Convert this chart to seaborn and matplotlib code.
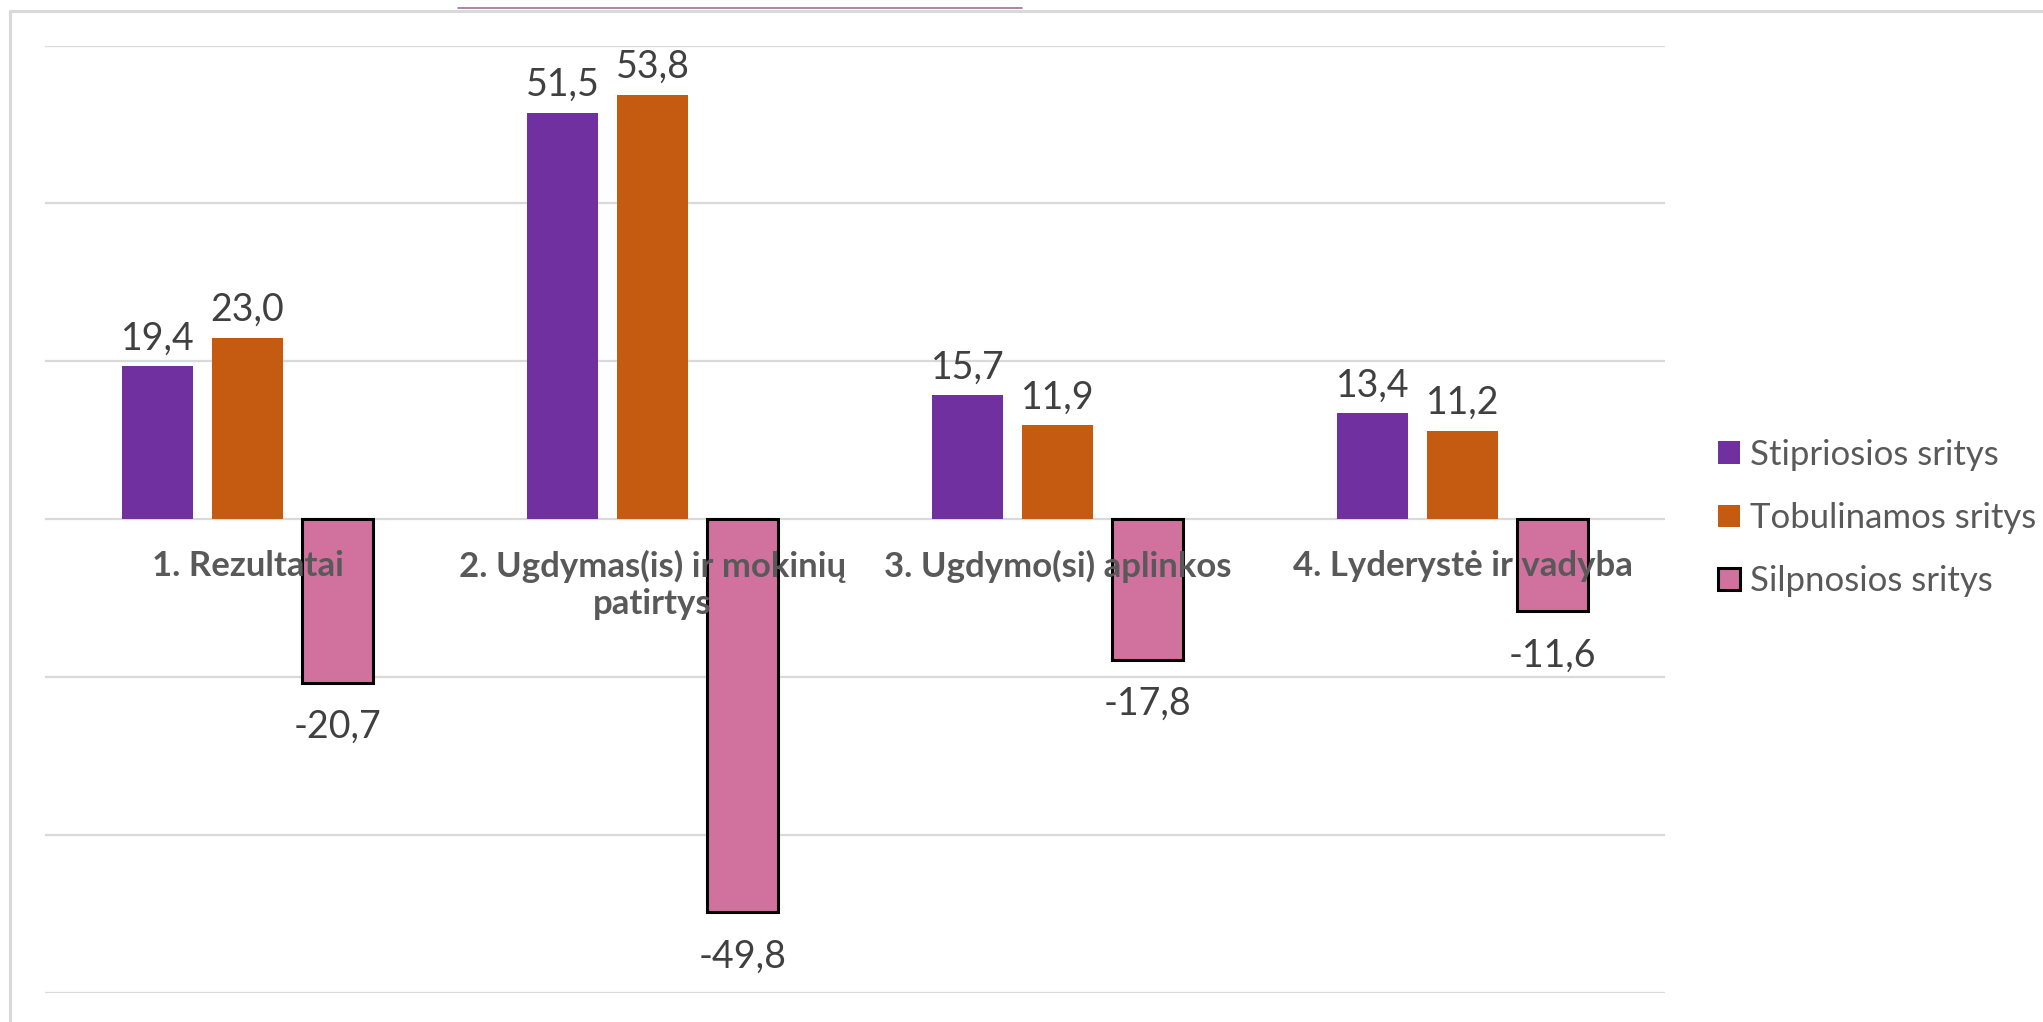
import matplotlib
matplotlib.use("Agg")
import matplotlib.pyplot as plt
from matplotlib.lines import Line2D
from matplotlib.patches import Patch
import seaborn as sns
import pandas as pd

categories = ["1. Rezultatai", "2. Ugdymas(is) ir mokinių\npatirtys",
              "3. Ugdymo(si) aplinkos", "4. Lyderystė ir vadyba"]
series = ["Stipriosios sritys", "Tobulinamos sritys", "Silpnosios sritys"]
stipriosios = [19.4, 51.5, 15.7, 13.4]
tobulinamos = [23.0, 53.8, 11.9, 11.2]
silpnosios = [-20.7, -49.8, -17.8, -11.6]
gridlines = [-60, -40, -20, 0, 20, 40, 60]

colors = ["#7030A0", "#C55A11", "#D0719E"]

sns.set_theme(style="white")
plt.rcParams["font.family"] = ["Lato", "DejaVu Sans"]

df = pd.DataFrame({
    "kategorija": categories * 3,
    "serija": [series[0]] * 4 + [series[1]] * 4 + [series[2]] * 4,
    "reiksme": stipriosios + tobulinamos + silpnosios,
})

fig = plt.figure(figsize=(20.43, 10.22), dpi=100)
ax = fig.add_axes([0.022, 0.0284, 0.793, 0.927])

sns.barplot(data=df, x="kategorija", y="reiksme", hue="serija",
            hue_order=series, palette=colors, width=0.667, gap=0.22,
            saturation=1, legend=False, ax=ax, errorbar=None)

for i, cont in enumerate(ax.containers):
    for p in cont:
        p.set_zorder(2)
        if i == 2:
            p.set_edgecolor("black")
            p.set_linewidth(2.2)
        else:
            p.set_edgecolor("none")
    vals = [stipriosios, tobulinamos, silpnosios][i]
    ax.bar_label(cont, labels=[f"{v:.1f}".replace(".", ",") for v in vals],
                 padding=(19 if i == 2 else 7), fontsize=27, color="#404040")

for g in gridlines:
    ax.axhline(g, color="#d9d9d9", lw=1.6, zorder=0)

ax.set_ylim(-60, 60)
ax.set_xlim(-0.5, 3.5)
ax.set_yticks([])
ax.set_xlabel("")
ax.set_ylabel("")
for s in ax.spines.values():
    s.set_visible(False)
ax.spines["bottom"].set_position(("data", 0))
ax.xaxis.set_zorder(5)
ax.tick_params(axis="x", length=0, pad=22)
ax.set_xticks(range(len(categories)))
ax.set_xticklabels(categories, fontsize=25, fontweight="bold", color="#595959")

handles = [Patch(facecolor=colors[0], edgecolor="none"),
           Patch(facecolor=colors[1], edgecolor="none"),
           Patch(facecolor=colors[2], edgecolor="black", linewidth=2.2)]
fig.legend(handles, series, loc="center left", bbox_to_anchor=(0.841, 0.493),
           frameon=False, fontsize=25, handlelength=0.62, handleheight=0.62,
           handletextpad=0.3, labelspacing=0.9, borderpad=0, borderaxespad=0,
           labelcolor="#595959")

# slide frame and title underline fragment
fig.add_artist(Line2D([0.0047, 1.0], [0.9893, 0.9893], color="#d9d9d9", lw=2.2))
fig.add_artist(Line2D([0.0047, 0.0047], [0.0, 0.9893], color="#d9d9d9", lw=2.2))
fig.add_artist(Line2D([0.224, 0.50], [0.9922, 0.9922], color="#a07090", lw=1.2))

fig.savefig("out.png", dpi=100)
